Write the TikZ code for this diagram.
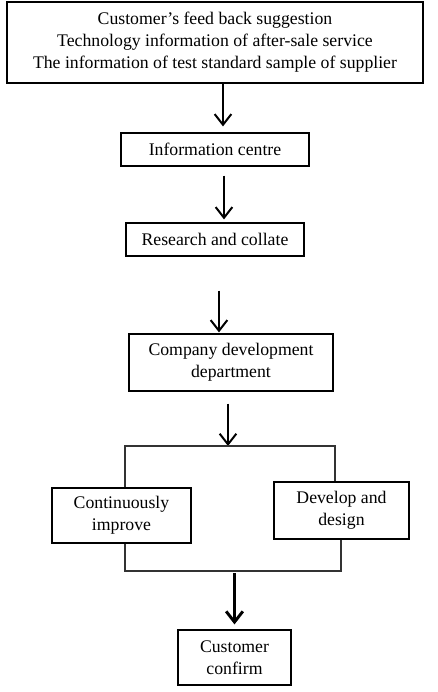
\documentclass[tikz,border=0pt]{standalone}
\usepackage{fontspec}
\setmainfont{Liberation Serif}
\usetikzlibrary{arrows.meta}

\begin{document}
\begin{tikzpicture}[x=0.75pt,y=-0.75pt,>={Straight Barb[length=8pt,width=12.5pt]},
  box/.style={draw,line width=0.9pt,align=center,inner sep=0pt,
    font=\fontsize{13.3}{16.5}\selectfont},
  flow/.style={->,line width=1.5pt},
  link/.style={line width=0.8pt,black!80}]
\useasboundingbox (0,0) rectangle (437,692);

%---------------- Boxes ----------------
\node[box,minimum width=312pt,minimum height=60.75pt] (src) at (215,42.5)
  {Customer's feed back suggestion\\Technology information of after-sale service\\The information of test standard sample of supplier};
\node[box,minimum width=141pt,minimum height=24.75pt] (info) at (215,149.5) {Information centre};
\node[box,minimum width=133.5pt,minimum height=24.75pt] (res) at (215,239.5) {Research and collate};
\node[box,minimum width=153pt,minimum height=42.75pt] (comp) at (231,362.5) {Company development\\department};

% Two branches
\node[box,minimum width=104.25pt,minimum height=41.25pt] (cont) at (121.5,515.5) {Continuously\\improve};
\node[box,minimum width=101.25pt,minimum height=42.75pt] (dev) at (341.5,510.5) {Develop and\\design};

\node[box,minimum width=84.75pt,minimum height=41.25pt] (conf) at (234.5,657.5) {Customer\\confirm};

%---------------- Arrows ----------------
\draw[flow,shorten >=4.5pt] ([xshift=6pt]src.south) -- ([xshift=6pt]info.north);
\draw[flow,shorten <=6.75pt,shorten >=2.25pt] ([xshift=6.75pt]info.south) -- ([xshift=6.75pt]res.north);
\draw[flow,shorten <=25.5pt,shorten >=0.75pt] ([xshift=3pt]res.south) -- ([xshift=3pt]res.south |- comp.north);

% Split and join lines
\coordinate (split) at (228,446);
\coordinate (splitL) at (125,446);
\coordinate (splitR) at (335,446);
\coordinate (joinL) at (125,571);
\coordinate (joinR) at (341,571);

\draw[flow,shorten <=9pt] (comp.south -| split) -- (split);
\draw[link] (splitL |- cont.north) -- (splitL) -- (splitR) -- (splitR |- dev.north);
\draw[link] (cont.south -| joinL) -- (joinL) -- (joinR) -- (dev.south -| joinR);

\draw[flow,line width=2.2pt,shorten <=1.5pt,shorten >=3.75pt] (conf.north |- joinL) -- (conf.north);

\end{tikzpicture}
\end{document}
